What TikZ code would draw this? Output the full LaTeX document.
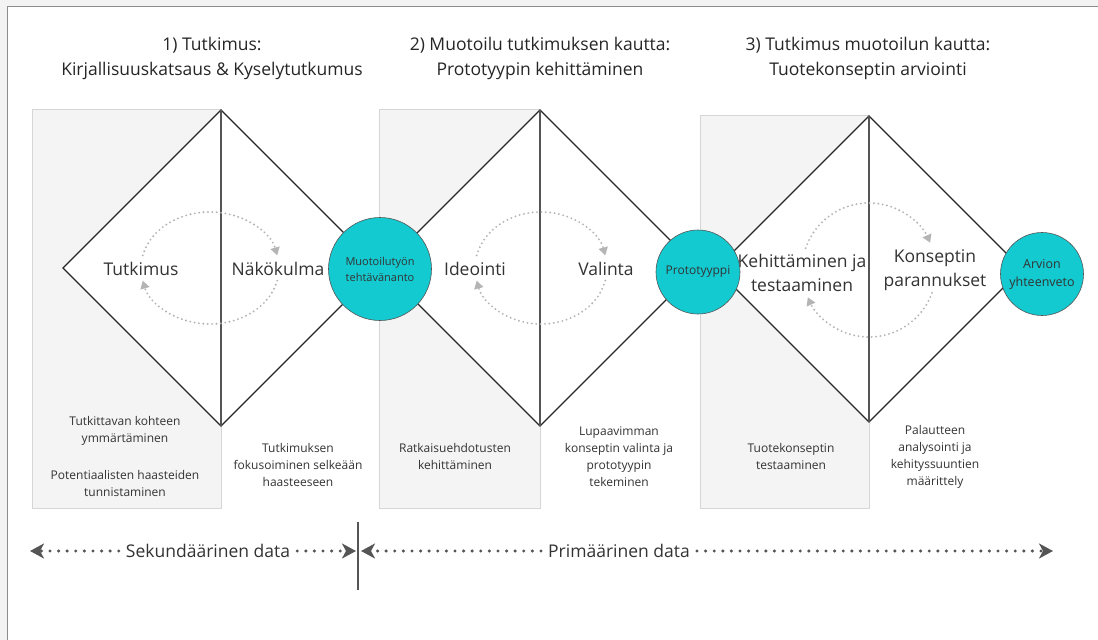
\documentclass[tikz,border=0pt]{standalone}
\usepackage{fontspec}
\setmainfont{Open Sans}
\usetikzlibrary{arrows.meta}
\definecolor{hubfill}{HTML}{13CAD0}
\definecolor{panelfill}{HTML}{F4F4F4}
\definecolor{panelline}{HTML}{D6D6D6}
\definecolor{txt}{HTML}{333333}
\definecolor{loopc}{HTML}{B4B4B4}
\definecolor{darkg}{HTML}{555555}
\definecolor{framefill}{HTML}{F3F3F3}
\begin{document}
\begin{tikzpicture}[x=1pt,y=-1pt,
  frameline/.style={draw=black!45,line width=1pt},
  panel/.style={fill=panelfill,draw=panelline,line width=1pt},
  diam/.style={fill=white,draw=black!85,line width=1.3pt,line join=miter},
  midline/.style={draw=darkg,line width=1.6pt},
  loopline/.style={draw=loopc,line width=2.1pt,dash pattern=on 0pt off 4.4pt,line cap=round,
    -{Triangle[length=8pt,width=9pt,fill=loopc]}},
  hub/.style={circle,fill=hubfill,draw=darkg,line width=0.6pt,inner sep=0pt,align=center,
    text=txt,font=\fontsize{11}{16}\selectfont},
  biglabel/.style={align=center,text=txt,font=\fontsize{17.5}{24}\selectfont,inner sep=2pt},
  title/.style={align=center,text=black!85,font=\fontsize{17.5}{25}\selectfont},
  small/.style={align=center,text=txt,font=\fontsize{12}{17}\selectfont},
  datalabel/.style={text=txt,font=\fontsize{17.5}{20}\selectfont,inner sep=7pt},
  dataline/.style={draw=darkg,line width=3.4pt,dash pattern=on 0pt off 8.6pt,line cap=round,
    -{Stealth[length=14pt,width=15pt,inset=4pt,fill=darkg]}},
  sepline/.style={draw=darkg,line width=1.8pt}
]
\useasboundingbox (0,0) rectangle (1098,640);
\fill[white] (0,0) rectangle (1098,640);
\fill[framefill] (0,0) rectangle (1098,6);
\fill[framefill] (0,0) rectangle (7,640);
\draw[frameline] (7,640) -- (7,6) -- (1098,6);

% panels
\draw[panel] (32,109) rectangle (221,508);
\draw[panel] (379,109) rectangle (540,508);
\draw[panel] (700,115) rectangle (869,508);

% diamonds
\draw[diam] (63,268) -- (221,110) -- (379,268) -- (221,426) -- cycle;
\draw[midline] (221,110) -- (221,426);
\draw[diam] (382,268) -- (540,110) -- (698,268) -- (540,426) -- cycle;
\draw[midline] (540,110) -- (540,426);
\draw[diam] (716,269) -- (869,116) -- (1022,269) -- (869,422) -- cycle;
\draw[midline] (869,116) -- (869,422);

% loops
\draw[loopline] ([shift={(193:69 and 56)}]210,268) arc[start angle=193,end angle=347,x radius=69,y radius=56];
\draw[loopline] ([shift={(13:69 and 56)}]210,268) arc[start angle=13,end angle=167,x radius=69,y radius=56];
\draw[loopline] ([shift={(193:66 and 56)}]541,268) arc[start angle=193,end angle=347,x radius=66,y radius=56];
\draw[loopline] ([shift={(13:66 and 56)}]541,268) arc[start angle=13,end angle=167,x radius=66,y radius=56];
\draw[loopline] ([shift={(199:67 and 67)}]869,270) arc[start angle=199,end angle=336,x radius=67,y radius=67];
\draw[loopline] ([shift={(20:67 and 67)}]869,270) arc[start angle=20,end angle=156,x radius=67,y radius=67];

% diamond labels
\node[biglabel] (tutk) at (141,269) {Tutkimus};
\node[biglabel] (nako) at (278,269) {Näkökulma};
\node[biglabel] (ideo) at (475,269) {Ideointi};
\node[biglabel] (vali) at (606,269) {Valinta};
\node[biglabel] (kehi) at (802,273) {Kehittäminen ja\\testaaminen};
\node[biglabel] (kons) at (935,270) {Konseptin\\parannukset};

% hubs
\node[hub,minimum size=103pt] (h1) at (380,269) {Muotoilutyön\\tehtävänanto};
\node[hub,minimum size=84pt,font=\fontsize{12}{16}\selectfont] (h2) at (698,272) {Prototyyppi};
\node[hub,minimum size=83pt,font=\fontsize{12.5}{18}\selectfont] (h3) at (1042,274) {Arvion\\yhteenveto};

% titles
\node[title] (t1) at (212,58) {1) Tutkimus:\\Kirjallisuuskatsaus \& Kyselytutkumus};
\node[title] (t2) at (540,58) {2) Muotoilu tutkimuksen kautta:\\Prototyypin kehittäminen};
\node[title] (t3) at (868,58) {3) Tutkimus muotoilun kautta:\\Tuotekonseptin arviointi};

% bottom texts
\node[small] (b1a) at (125,431) {Tutkittavan kohteen\\ymmärtäminen};
\node[small] (b1b) at (125,483) {Potentiaalisten haasteiden\\tunnistaminen};
\node[small] (b2) at (298,465) {Tutkimuksen\\fokusoiminen selkeään\\haasteeseen};
\node[small] (b3) at (455,456) {Ratkaisuehdotusten\\kehittäminen};
\node[small] (b4) at (619,456.5) {Lupaavimman\\konseptin valinta ja\\prototyypin\\tekeminen};
\node[small] (b5) at (791,456) {Tuotekonseptin\\testaaminen};
\node[small] (b6) at (935,456.5) {Palautteen\\analysointi ja\\kehityssuuntien\\määrittely};

% data arrows
\coordinate (sL) at (30,551);
\coordinate (sR) at (356,551);
\coordinate (pL) at (361,551);
\coordinate (pR) at (1053,551);
\coordinate (sepT) at (358,522);
\coordinate (sepB) at (358,590);
\node[datalabel] (sek) at (208,551) {Sekundäärinen data};
\node[datalabel] (prim) at (619,551) {Primäärinen data};
\draw[dataline] (sek.west) -- (sL);
\draw[dataline] (sek.east) -- (sR);
\draw[dataline] (prim.west) -- (pL);
\draw[dataline] (prim.east) -- (pR);
\draw[sepline] (sepT) -- (sepB);
\end{tikzpicture}
\end{document}
